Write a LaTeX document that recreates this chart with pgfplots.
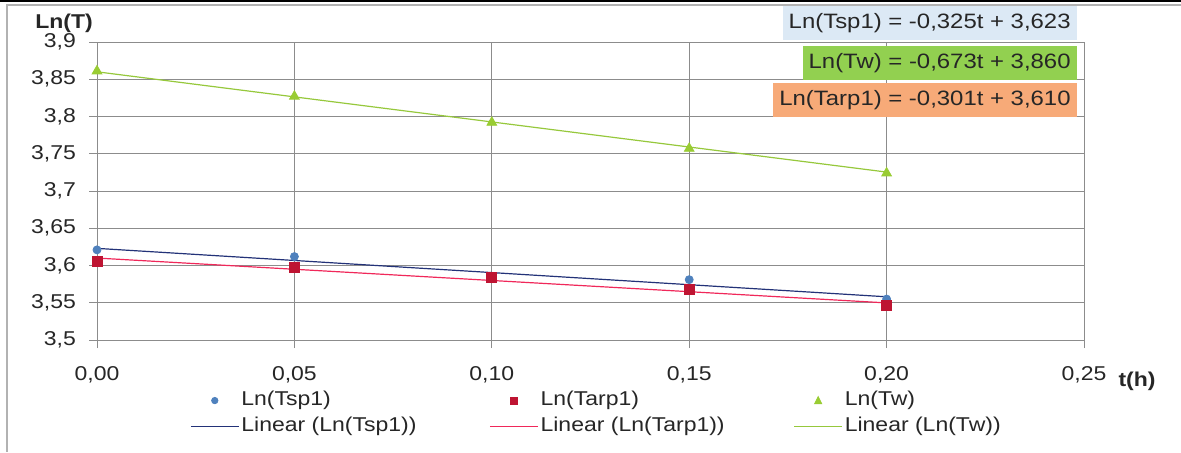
\documentclass[border=0pt]{standalone}
\usepackage{pgfplots}
\pgfplotsset{compat=1.18}
\usepackage{fontspec}
\setmainfont{Liberation Sans}[FakeStretch=1.15]
\definecolor{gridc}{RGB}{140,140,140}
\definecolor{txt}{RGB}{38,38,38}
\definecolor{cblue}{RGB}{79,129,189}
\definecolor{cred}{RGB}{190,20,50}
\definecolor{cgreen}{RGB}{153,204,51}
\definecolor{lblue}{RGB}{35,50,120}
\definecolor{lred}{RGB}{240,40,90}
\definecolor{lgreen}{RGB}{150,200,60}
\definecolor{boxblue}{RGB}{220,233,245}
\definecolor{boxgreen}{RGB}{146,208,80}
\definecolor{boxorange}{RGB}{247,170,120}
\begin{document}
\begin{tikzpicture}
\useasboundingbox (0,0) rectangle (590.5pt,226pt);
\draw[black, line width=1.2pt] (0,225.4pt) -- (590.5pt,225.4pt);
\draw[gray!60, line width=0.6pt] (590.5pt,223.5pt) -- (3.5pt,223.5pt) -- (3.5pt,0);
\begin{axis}[
  at={(48.5pt,56pt)}, anchor=south west,
  scale only axis, width=493.5pt, height=149pt,
  xmin=0, xmax=0.25, ymin=3.5, ymax=3.9,
  xtick={0,0.05,0.10,0.15,0.20,0.25},
  xticklabels={{0,00},{0,05},{0,10},{0,15},{0,20},{0,25}},
  ytick={3.5,3.55,3.6,3.65,3.7,3.75,3.8,3.85,3.9},
  yticklabels={{3,5},{3,55},{3,6},{3,65},{3,7},{3,75},{3,8},{3,85},{3,9}},
  grid=major,
  major grid style={gridc, line width=0.5pt},
  axis line style={gridc, line width=0.5pt},
  tick style={gridc, line width=0.5pt},
  tick align=outside, xtick pos=bottom, ytick pos=left,
  major tick length=4pt,
  ticklabel style={font=\fontsize{10}{12}\selectfont, text=txt},
  xticklabel style={yshift=-5.5pt},
  yticklabel style={xshift=-3pt},
  legend columns=3,
  legend cell align=left,
  legend style={at={(0.094,-0.165)}, anchor=north west, draw=none, fill=none,
    inner sep=0pt, row sep=1.8pt,
    font=\fontsize{10}{12}\selectfont, text=txt,
    nodes={inner sep=1pt, text height=7pt, text depth=2pt},
    /tikz/every even column/.style={column sep=0pt}},
]
\addplot[only marks, mark=*, mark size=2pt, color=cblue,
  legend image code/.code={\path[draw=none,fill=none] (0pt,0pt) -- (24pt,0pt); \fill[cblue] (12pt,0pt) circle (1.6pt);}] coordinates {
  (0,3.621) (0.05,3.612) (0.10,3.584) (0.15,3.581) (0.20,3.555)};
\addlegendentry{\makebox[123pt][l]{Ln(Tsp1)}}
\addplot[only marks, mark=square*, mark size=2.5pt, color=cred,
  legend image code/.code={\path[draw=none,fill=none] (0pt,0pt) -- (24pt,0pt); \fill[cred] (10.2pt,-1.8pt) rectangle (13.8pt,1.8pt);}] coordinates {
  (0,3.605) (0.05,3.598) (0.10,3.584) (0.15,3.568) (0.20,3.546)};
\addlegendentry{\makebox[125.5pt][l]{Ln(Tarp1)}}
\addplot[only marks, mark=triangle*, mark size=2.8pt, color=cgreen,
  legend image code/.code={\path[draw=none,fill=none] (0pt,0pt) -- (24pt,0pt); \fill[cgreen] (10.2pt,-1.6pt) -- (13.8pt,-1.6pt) -- (12pt,2pt) -- cycle;}] coordinates {
  (0,3.861) (0.05,3.827) (0.10,3.792) (0.15,3.757) (0.20,3.724)};
\addlegendentry{Ln(Tw)}
\addplot[no marks, lblue, line width=0.6pt,
  legend image code/.code={\draw[lblue, line width=0.6pt] (0pt,0pt) -- (24pt,0pt);}] coordinates {(0,3.623) (0.20,3.558)};
\addlegendentry{\makebox[123pt][l]{Linear (Ln(Tsp1))}}
\addplot[no marks, lred, line width=0.6pt,
  legend image code/.code={\draw[lred, line width=0.6pt] (0pt,0pt) -- (24pt,0pt);}] coordinates {(0,3.610) (0.20,3.5498)};
\addlegendentry{\makebox[125.5pt][l]{Linear (Ln(Tarp1))}}
\addplot[no marks, lgreen, line width=0.6pt,
  legend image code/.code={\draw[lgreen, line width=0.6pt] (0pt,0pt) -- (24pt,0pt);}] coordinates {(0,3.860) (0.20,3.7254)};
\addlegendentry{Linear (Ln(Tw))}
\end{axis}
\node[font=\bfseries\fontsize{10}{12}\selectfont, text=txt] at (32pt,214.5pt) {Ln(T)};
\node[font=\bfseries\fontsize{10}{12}\selectfont, text=txt] at (568.5pt,35.5pt) {t(h)};
\begin{scope}[every node/.style={anchor=east, font=\fontsize{10.4}{12}\selectfont, text=txt, inner xsep=3pt, inner ysep=3.5pt, text height=7.5pt, text depth=2.5pt}]
\node[fill=boxblue] at (538.5pt,214.5pt) {Ln(Tsp1) = -0,325t + 3,623};
\node[fill=boxgreen] at (538.5pt,194.3pt) {Ln(Tw) = -0,673t + 3,860};
\node[fill=boxorange] at (538.5pt,176pt) {Ln(Tarp1) = -0,301t + 3,610};
\end{scope}
\end{tikzpicture}
\end{document}
